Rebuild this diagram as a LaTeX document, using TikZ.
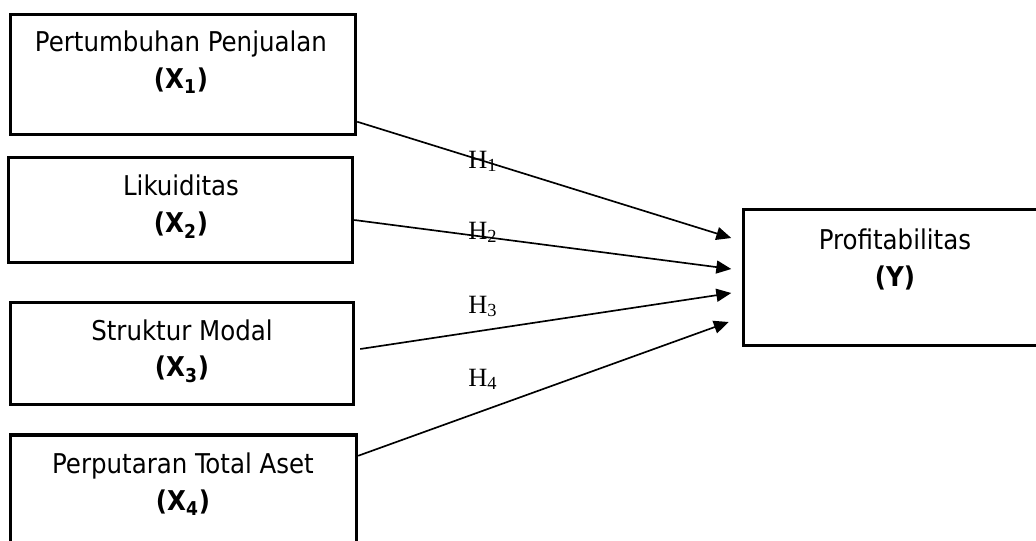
\documentclass[tikz,border=0pt]{standalone}
\usepackage{fontspec}
\setmainfont{DejaVu Sans Condensed}
\newfontfamily\timesfont{Liberation Serif}
\usetikzlibrary{arrows.meta, calc}

\begin{document}
\begin{tikzpicture}[x=0.02cm, y=-0.02cm,
    block/.style={rectangle, draw, line width=2pt, inner sep=0pt},
    btext/.style={align=center, inner sep=0pt, font=\fontsize{15.5}{21}\selectfont},
    hlabel/.style={anchor=base west, inner sep=0pt, font=\timesfont\fontsize{15}{17}\selectfont},
    arrow/.style={-{Triangle[length=8.5pt, width=7.4pt]}, line width=0.95pt}
]
\clip (0,0) rectangle (1036,541);

% Blocks
\node[block, minimum width=6.9cm, minimum height=2.4cm] (x1) at (183, 74.5) {};
\node[block, minimum width=6.88cm, minimum height=2.1cm] (x2) at (180.5, 210) {};
\node[block, minimum width=6.86cm, minimum height=2.04cm] (x3) at (182, 353.5) {};
\node[block, minimum width=6.92cm, minimum height=2.5cm] (x4) at (183.5, 497.5) {};
\node[block, minimum width=6.06cm, minimum height=2.72cm] (y) at (895, 277.5) {};

% Texts
\node[btext] (t1) at (181, 62) {Pertumbuhan Penjualan\\\textbf{(X\textsubscript{1})}};
\node[btext] (t2) at (181, 206.5) {Likuiditas\\\textbf{(X\textsubscript{2})}};
\node[btext] (t3) at (182, 351) {Struktur Modal\\\textbf{(X\textsubscript{3})}};
\node[btext] (t4) at (183, 484) {Perputaran Total Aset\\\textbf{(X\textsubscript{4})}};
\node[btext] (ty) at (895, 259.5) {Profitabilitas\\\textbf{(Y)}};

% Arrow ends
\coordinate (in1) at ($(y.west)+(-10.5,-39.5)$);
\coordinate (in2) at ($(y.west)+(-10.5,-8.5)$);
\coordinate (in3) at ($(y.west)+(-10.5,15.5)$);
\coordinate (in4) at ($(y.west)+(-13,44.5)$);

% Arrows
\draw[arrow] ($(x1.south east)+(0,-14.5)$) -- (in1);
\draw[arrow] ($(x2.east)+(0,10)$) -- (in2);
\draw[arrow] ($(x3.east)+(5,-4.5)$) -- (in3);
\draw[arrow] ($(x4.north east)+(0,22.5)$) -- (in4);

% Hypotheses
\node[hlabel] (h1) at (468, 168) {H\textsubscript{1}};
\node[hlabel] (h2) at (468, 239) {H\textsubscript{2}};
\node[hlabel] (h3) at (468, 313) {H\textsubscript{3}};
\node[hlabel] (h4) at (468, 386) {H\textsubscript{4}};

\end{tikzpicture}
\end{document}
